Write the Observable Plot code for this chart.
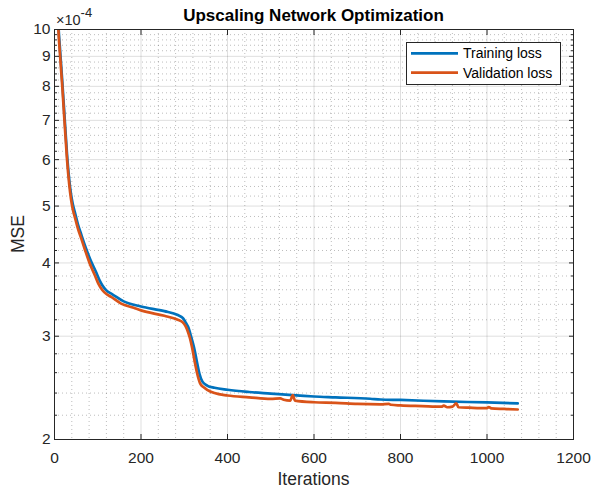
<!DOCTYPE html>
<html>
<head>
<meta charset="utf-8">
<script src="https://cdn.jsdelivr.net/npm/d3@7"></script>
<script src="https://cdn.jsdelivr.net/npm/@observablehq/plot@0.6"></script>
<style>
  html, body { margin: 0; padding: 0; background: #fff; }
  svg { display: block; }
</style>
</head>
<body>
<div id="chart"></div>
<script>
// Values are MSE in units of 1e-4 (axis exponent shown as ×10^-4)
const trainIter = [1, 4, 9, 13, 18, 23, 29, 34, 38, 42, 48, 54, 62, 71, 83, 96, 104, 112, 122, 133, 160, 200, 254, 285, 297, 304, 310, 315, 320, 324, 329, 335, 342, 353, 370, 400, 450, 500, 550, 600, 650, 730, 754, 800, 900, 1000, 1071];
const trainMSE  = [17.5, 13.3, 10.2, 9.2, 8.15, 7.15, 6.12, 5.55, 5.25, 5.05, 4.85, 4.66, 4.47, 4.27, 4.05, 3.86, 3.74, 3.65, 3.58, 3.54, 3.44, 3.371, 3.31, 3.26, 3.22, 3.16, 3.10, 3.01, 2.92, 2.84, 2.72, 2.59, 2.51, 2.472, 2.45, 2.431, 2.41, 2.395, 2.38, 2.368, 2.36, 2.347, 2.34, 2.336, 2.322, 2.313, 2.305];

const valIter = [1, 4, 9, 13, 18, 23, 29, 34, 38, 42, 48, 54, 62, 71, 81, 94, 102, 110, 120, 131, 154, 183, 200, 254, 285, 296, 303, 308, 313, 318, 324, 330, 337, 345, 353, 370, 400, 450, 500, 522, 530, 545, 551, 556, 600, 650, 700, 754, 773, 778, 800, 850, 895, 900, 908, 920, 929, 934, 960, 1000, 1004, 1010, 1040, 1071];
const valMSE  = [17, 13, 10.0, 9.0, 8.0, 7.0, 6.0, 5.45, 5.15, 4.95, 4.76, 4.58, 4.4, 4.2, 4.0, 3.8, 3.68, 3.6, 3.54, 3.5, 3.41, 3.354, 3.32, 3.25, 3.20, 3.17, 3.12, 3.06, 2.98, 2.874, 2.72, 2.589, 2.49, 2.455, 2.431, 2.40, 2.377, 2.36, 2.345, 2.35, 2.338, 2.33, 2.38, 2.33, 2.315, 2.31, 2.30, 2.296, 2.30, 2.292, 2.286, 2.28, 2.275, 2.285, 2.27, 2.275, 2.306, 2.27, 2.266, 2.262, 2.272, 2.26, 2.255, 2.25];

const xTicks = [0, 200, 400, 600, 800, 1000, 1200];
const xMinor = [40, 80, 120, 160, 240, 280, 320, 360, 440, 480, 520, 560, 640, 680, 720, 760, 840, 880, 920, 960, 1040, 1080, 1120, 1160];
const yTicks = [2, 3, 4, 5, 6, 7, 8, 9, 10];
const yMinor = [2.2, 2.4, 2.6, 2.8, 3.2, 3.4, 3.6, 3.8, 4.2, 4.4, 4.6, 4.8, 5.2, 5.4, 5.6, 5.8, 6.2, 6.4, 6.6, 6.8, 7.2, 7.4, 7.6, 7.8, 8.2, 8.4, 8.6, 8.8, 9.2, 9.4, 9.6, 9.8];

const seriesNames = ["Training loss", "Validation loss"];
const seriesColors = ["#0072BD", "#D95319"];

const training = trainIter.map((x, i) => ({x, y: trainMSE[i]}));
const validation = valIter.map((x, i) => ({x, y: valMSE[i]}));

const axisColor = "#262626";
const font = "'Liberation Sans', Arial, Helvetica, sans-serif";

const svg = Plot.plot({
  width: 591,
  height: 491,
  marginLeft: 54,
  marginRight: 18,
  marginTop: 29,
  marginBottom: 52,
  style: {fontFamily: font, fontSize: "15.5px", color: axisColor, background: "#fff"},
  x: {domain: [0, 1200], label: null},
  y: {type: "log", domain: [2, 10], label: null},
  marks: [
    Plot.gridX(xMinor, {stroke: axisColor, strokeOpacity: 0.3, strokeDasharray: "1,3"}),
    Plot.gridY(yMinor, {stroke: axisColor, strokeOpacity: 0.3, strokeDasharray: "1,3"}),
    Plot.gridX(xTicks, {stroke: axisColor, strokeOpacity: 0.15}),
    Plot.gridY(yTicks, {stroke: axisColor, strokeOpacity: 0.15}),
    Plot.line(training, {x: "x", y: "y", stroke: seriesColors[0], strokeWidth: 2.7, curve: "monotone-x", clip: true}),
    Plot.line(validation, {x: "x", y: "y", stroke: seriesColors[1], strokeWidth: 2.7, curve: "monotone-x", clip: true}),
    Plot.frame({stroke: axisColor, strokeWidth: 1}),
    Plot.axisX(xTicks, {anchor: "bottom", tickSize: -5, tickPadding: 17, tickFormat: d => String(d), fontSize: 15.5, label: null}),
    Plot.axisX(xTicks, {anchor: "top", tickSize: -5, tickFormat: () => "", label: null}),
    Plot.axisY(yTicks, {anchor: "left", tickSize: -5, tickPadding: 9, tickFormat: d => String(d), fontSize: 15.5, label: null}),
    Plot.axisY(yMinor, {anchor: "left", tickSize: -3, tickFormat: () => "", label: null}),
    Plot.axisY(yTicks, {anchor: "right", tickSize: -5, tickFormat: () => "", label: null}),
    Plot.axisY(yMinor, {anchor: "right", tickSize: -3, tickFormat: () => "", label: null})
  ]
});

document.getElementById("chart").appendChild(svg);

const s = d3.select(svg);
// Title
s.append("text")
  .attr("x", 313.5).attr("y", 20.5)
  .attr("text-anchor", "middle")
  .attr("font-family", font).attr("font-size", 17).attr("font-weight", "bold")
  .attr("fill", "#000")
  .text("Upscaling Network Optimization");
// Exponent
const ex = s.append("text")
  .attr("x", 56).attr("y", 24.5)
  .attr("text-anchor", "start")
  .attr("font-family", font).attr("font-size", 14.5).attr("fill", axisColor);
ex.append("tspan").text("×10");
ex.append("tspan").attr("dy", -8).attr("font-size", 13).text("-4");
// Axis labels
s.append("text")
  .attr("x", 313.5).attr("y", 485)
  .attr("text-anchor", "middle")
  .attr("font-family", font).attr("font-size", 17.5).attr("fill", axisColor)
  .text("Iterations");
s.append("text")
  .attr("transform", "translate(24,234) rotate(-90)")
  .attr("text-anchor", "middle")
  .attr("font-family", font).attr("font-size", 17.5).attr("fill", axisColor)
  .text("MSE");
// Legend
const lg = s.append("g");
lg.append("rect").attr("x", 406.5).attr("y", 42.5).attr("width", 154).attr("height", 42)
  .attr("fill", "#fff").attr("stroke", axisColor).attr("stroke-width", 1);
seriesNames.forEach((name, i) => {
  const yy = 53.3 + i * 19.4;
  lg.append("line").attr("x1", 411).attr("x2", 458).attr("y1", yy).attr("y2", yy)
    .attr("stroke", seriesColors[i]).attr("stroke-width", 2.7);
  lg.append("text").attr("x", 463).attr("y", yy + 5)
    .attr("text-anchor", "start")
    .attr("font-family", font).attr("font-size", 14).attr("fill", "#000")
    .text(name);
});
</script>
</body>
</html>
